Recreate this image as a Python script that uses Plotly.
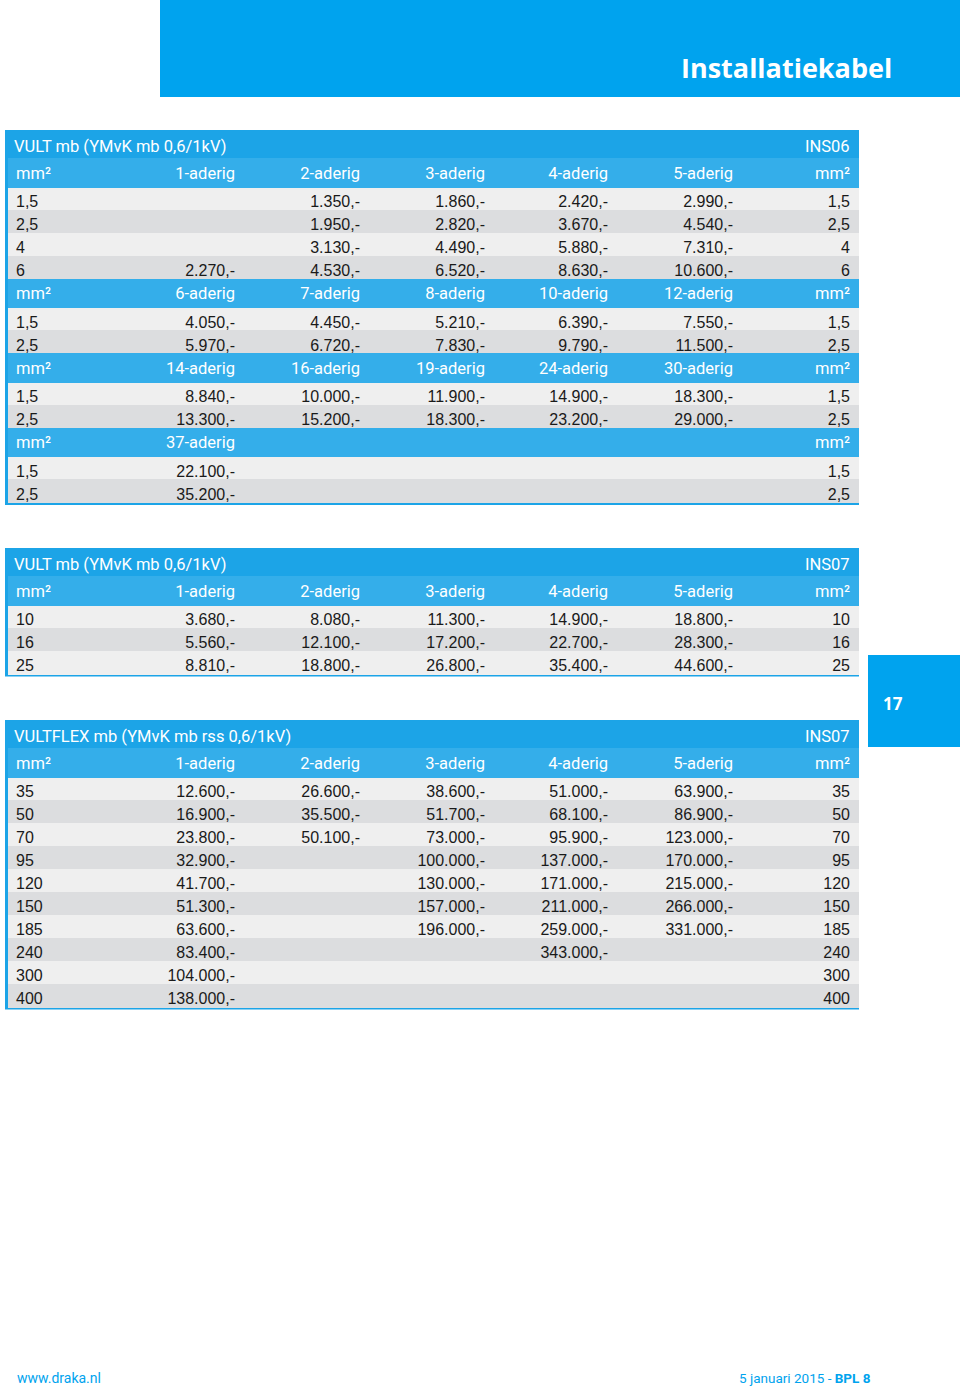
import plotly.graph_objects as go

W, H = 960, 1390

# --- data -------------------------------------------------------------
PAGE_TITLE = "Installatiekabel"
PAGE_NUMBER = "17"
FOOTER_LEFT = "www.draka.nl"
FOOTER_RIGHT = "5 januari 2015 - <b>BPL 8</b>"

T1_TITLE = "VULT mb (YMvK mb 0,6/1kV)"
T1_CODE = "INS06"
T1A_SIZES = ["1,5", "2,5", "4", "6"]
T1A_COLS = ["1-aderig", "2-aderig", "3-aderig", "4-aderig", "5-aderig"]
T1A_VALUES = [
    [None, None, None, 2270],
    [1350, 1950, 3130, 4530],
    [1860, 2820, 4490, 6520],
    [2420, 3670, 5880, 8630],
    [2990, 4540, 7310, 10600],
]
T1B_SIZES = ["1,5", "2,5"]
T1B_COLS = ["6-aderig", "7-aderig", "8-aderig", "10-aderig", "12-aderig"]
T1B_VALUES = [
    [4050, 5970],
    [4450, 6720],
    [5210, 7830],
    [6390, 9790],
    [7550, 11500],
]
T1C_SIZES = ["1,5", "2,5"]
T1C_COLS = ["14-aderig", "16-aderig", "19-aderig", "24-aderig", "30-aderig"]
T1C_VALUES = [
    [8840, 13300],
    [10000, 15200],
    [11900, 18300],
    [14900, 23200],
    [18300, 29000],
]
T1D_SIZES = ["1,5", "2,5"]
T1D_COLS = ["37-aderig", "", "", "", ""]
T1D_VALUES = [
    [22100, 35200],
    [None, None],
    [None, None],
    [None, None],
    [None, None],
]

T2_TITLE = "VULT mb (YMvK mb 0,6/1kV)"
T2_CODE = "INS07"
T2_SIZES = ["10", "16", "25"]
T2_COLS = ["1-aderig", "2-aderig", "3-aderig", "4-aderig", "5-aderig"]
T2_VALUES = [
    [3680, 5560, 8810],
    [8080, 12100, 18800],
    [11300, 17200, 26800],
    [14900, 22700, 35400],
    [18800, 28300, 44600],
]

T3_TITLE = "VULTFLEX mb (YMvK mb rss 0,6/1kV)"
T3_CODE = "INS07"
T3_SIZES = ["35", "50", "70", "95", "120", "150", "185", "240", "300", "400"]
T3_COLS = ["1-aderig", "2-aderig", "3-aderig", "4-aderig", "5-aderig"]
T3_VALUES = [
    [12600, 16900, 23800, 32900, 41700, 51300, 63600, 83400, 104000, 138000],
    [26600, 35500, 50100, None, None, None, None, None, None, None],
    [38600, 51700, 73000, 100000, 130000, 157000, 196000, None, None, None],
    [51000, 68100, 95900, 137000, 171000, 211000, 259000, 343000, None, None],
    [63900, 86900, 123000, 170000, 215000, 266000, 331000, None, None, None],
]

# --- style ------------------------------------------------------------
BLUE_PAGE = "#00a3ee"
BLUE_TITLE = "#1ca4e7"
BLUE_HEAD = "#34aeea"
ROW_LIGHT = "#efefef"
ROW_DARK = "#dcdddf"
HEAD_FONT = "Roboto, sans-serif"
CELL_FONT = "Liberation Sans, Arial, sans-serif"

HEAD_H = 28.5
ROW_H = 23
TAB_X0, TAB_X1 = 8, 858
COL_W = [92, 143, 125, 125, 123, 125, 117]   # 7 kolommen


def px_x(x):
    return x / W


def px_y(y):
    return 1 - y / H


def price(v):
    if v is None:
        return ""
    return f"{v:,}".replace(",", ".") + ",-"


def section(top, sizes, cols, values):
    n = len(sizes)
    bottom = top + HEAD_H + n * ROW_H
    stripes = [ROW_LIGHT if i % 2 == 0 else ROW_DARK for i in range(n)]
    cells = [sizes] + [[price(v) for v in col] for col in values] + [sizes]
    tr = go.Table(
        domain=dict(x=[px_x(TAB_X0), px_x(TAB_X1)], y=[px_y(bottom + 2), px_y(top)]),
        columnwidth=COL_W,
        header=dict(
            values=["mm²"] + cols + ["mm²"],
            height=HEAD_H,
            fill_color=BLUE_HEAD,
            line=dict(width=1, color=BLUE_HEAD),
            align=["left"] + ["right"] * 6,
            font=dict(family=HEAD_FONT, size=16.5, color="white"),
        ),
        cells=dict(
            values=cells,
            height=ROW_H,
            fill_color=[stripes],
            line=dict(width=1, color=[stripes]),
            align=["left"] + ["right"] * 6,
            font=dict(family=CELL_FONT, size=16, color="#1a1a1a"),
        ),
    )
    return tr, bottom


fig = go.Figure()
shapes = []
annotations = []


def block(top, title, code, parts):
    # blauw kader + titelbalk
    y = top + HEAD_H
    traces = []
    for sizes, cols, values in parts:
        tr, y = section(y, sizes, cols, values)
        traces.append(tr)
    shapes.append(dict(type="rect", xref="paper", yref="paper",
                       x0=px_x(5), x1=px_x(859), y0=px_y(y + 2.5), y1=px_y(top),
                       fillcolor=BLUE_TITLE, line=dict(width=0), layer="below"))
    for txt, x, anchor in [(title, 12, "left"), (code, 852, "right")]:
        annotations.append(dict(text=txt, xref="paper", yref="paper",
                                x=px_x(x), y=px_y(top + HEAD_H / 2 + 2),
                                xanchor=anchor, yanchor="middle", showarrow=False,
                                font=dict(family=HEAD_FONT, size=16.5, color="white")))
    for tr in traces:
        fig.add_trace(tr)


block(130, T1_TITLE, T1_CODE, [
    (T1A_SIZES, T1A_COLS, T1A_VALUES),
    (T1B_SIZES, T1B_COLS, T1B_VALUES),
    (T1C_SIZES, T1C_COLS, T1C_VALUES),
    (T1D_SIZES, T1D_COLS, T1D_VALUES),
])
block(548, T2_TITLE, T2_CODE, [(T2_SIZES, T2_COLS, T2_VALUES)])
block(720, T3_TITLE, T3_CODE, [(T3_SIZES, T3_COLS, T3_VALUES)])

# paginabanner en paginanummer
shapes.append(dict(type="rect", xref="paper", yref="paper",
                   x0=px_x(160), x1=1, y0=px_y(97), y1=1,
                   fillcolor=BLUE_PAGE, line=dict(width=0)))
shapes.append(dict(type="rect", xref="paper", yref="paper",
                   x0=px_x(868), x1=1, y0=px_y(747), y1=px_y(655),
                   fillcolor=BLUE_PAGE, line=dict(width=0)))
annotations += [
    dict(text=f"<b>{PAGE_TITLE}</b>", xref="paper", yref="paper",
         x=px_x(894), y=px_y(67), xanchor="right", yanchor="middle", showarrow=False,
         font=dict(family="Open Sans, DejaVu Sans, sans-serif", size=27, color="white")),
    dict(text=f"<b>{PAGE_NUMBER}</b>", xref="paper", yref="paper",
         x=px_x(881), y=px_y(703), xanchor="left", yanchor="middle", showarrow=False,
         font=dict(family="Open Sans, DejaVu Sans, sans-serif", size=17, color="white")),
    dict(text=FOOTER_LEFT, xref="paper", yref="paper",
         x=px_x(15), y=px_y(1378), xanchor="left", yanchor="middle", showarrow=False,
         font=dict(family=HEAD_FONT, size=14, color=BLUE_PAGE)),
    dict(text=FOOTER_RIGHT, xref="paper", yref="paper",
         x=px_x(873), y=px_y(1378), xanchor="right", yanchor="middle", showarrow=False,
         font=dict(family=HEAD_FONT, size=13.5, color=BLUE_PAGE)),
]

fig.update_layout(
    width=W, height=H,
    margin=dict(l=0, r=0, t=0, b=0),
    paper_bgcolor="white",
    plot_bgcolor="white",
    showlegend=False,
    shapes=shapes,
    annotations=annotations,
)

fig.write_html("out.html", config={"displayModeBar": False},
               post_script="document.body.style.margin='0';")
